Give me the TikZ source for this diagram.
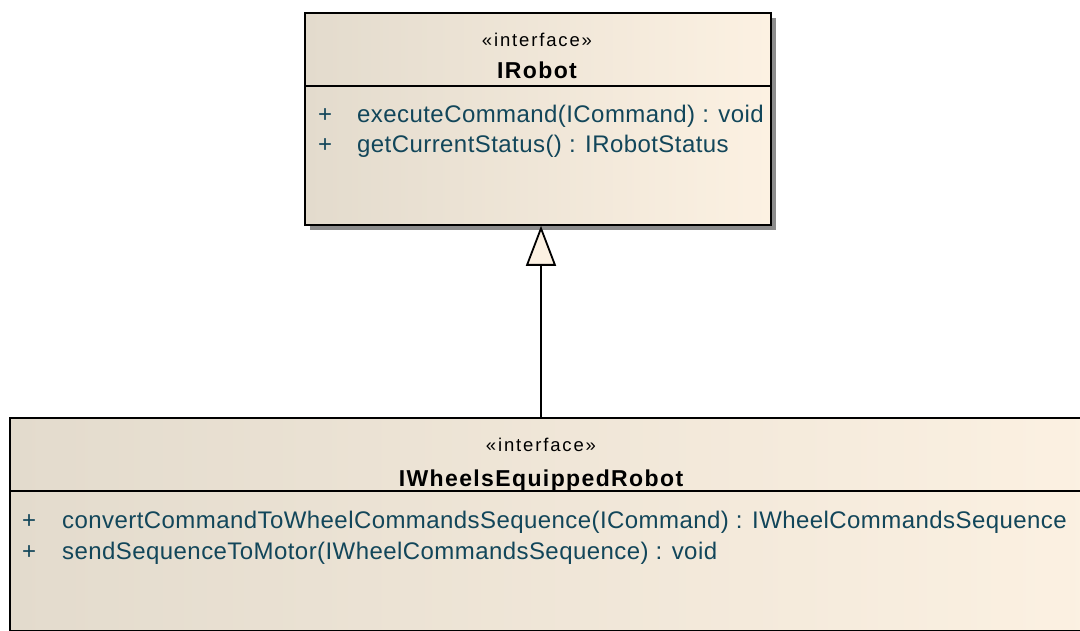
\documentclass[tikz,border=0pt]{standalone}
\usepackage{fontspec}
\setmainfont{Liberation Sans}
\usetikzlibrary{arrows.meta,calc,shadows}
\definecolor{boxleft}{RGB}{227,219,205}
\definecolor{boxright}{RGB}{252,241,226}
\definecolor{opcolor}{RGB}{18,70,90}
\definecolor{shadowgray}{RGB}{140,140,140}
\tikzset{
  classbox/.style={draw=black, line width=1.8pt, left color=boxleft, right color=boxright,
    inner sep=0pt, anchor=north west},
  boxshadow/.style={drop shadow={shadow xshift=5pt, shadow yshift=-5pt, fill=shadowgray, opacity=1}},
  divider/.style={line width=1.8pt, draw=black},
  stereo/.style={anchor=base, inner sep=0pt, text=black,
    font=\fontsize{18.5}{22}\selectfont\addfontfeatures{LetterSpace=10}},
  classname/.style={anchor=base, inner sep=0pt, text=black,
    font=\fontsize{23}{26}\selectfont\bfseries\addfontfeatures{LetterSpace=6}},
  op/.style={anchor=base west, inner sep=0pt, text=opcolor,
    font=\fontsize{24}{28}\selectfont\addfontfeatures{LetterSpace=1.8}},
  generalization/.style={line width=1.8pt, -{Triangle[length=40pt,width=30pt,fill=boxright]}},
}
\begin{document}
\begin{tikzpicture}[x=1pt,y=-1pt]
\useasboundingbox (0,0) rectangle (1080,631);
\begin{scope}
\clip (0,0) rectangle (1080,631);

% IRobot interface
\node[classbox, boxshadow, minimum width=466pt, minimum height=212pt] (irobot) at (304,12) {};
\coordinate (irobotDivL) at (304,86);
\coordinate (irobotDivR) at (770,86);
\draw[divider] (irobotDivL) -- (irobotDivR);
\node[stereo] (irobotStereo) at (537,47) {«interface»};
\node[classname] (irobotName) at (537,79) {IRobot};
\node[op] (irobotP1) at (318,123) {+};
\node[op] (irobotOp1) at (357,123) {executeCommand(ICommand) : void};
\node[op] (irobotP2) at (318,153) {+};
\node[op] (irobotOp2) at (357,153) {getCurrentStatus() : IRobotStatus};

% IWheelsEquippedRobot interface
\node[classbox, minimum width=1090pt, minimum height=213pt] (iwheel) at (9,417) {};
\coordinate (iwheelDivL) at (9,491);
\coordinate (iwheelDivR) at (1099,491);
\draw[divider] (iwheelDivL) -- (iwheelDivR);
\node[stereo] (iwheelStereo) at (541,451) {«interface»};
\node[classname] (iwheelName) at (541,486) {IWheelsEquippedRobot};
\node[op] (iwheelP1) at (22,528) {+};
\node[op] (iwheelOp1) at (62,528) {convertCommandToWheelCommandsSequence(ICommand) : IWheelCommandsSequence};
\node[op] (iwheelP2) at (22,559) {+};
\node[op] (iwheelOp2) at (62,559) {sendSequenceToMotor(IWheelCommandsSequence) : void};

% generalization
\coordinate (genStart) at (541,417);
\draw[generalization] (genStart) -- (genStart |- irobot.south);
\end{scope}
\end{tikzpicture}
\end{document}
